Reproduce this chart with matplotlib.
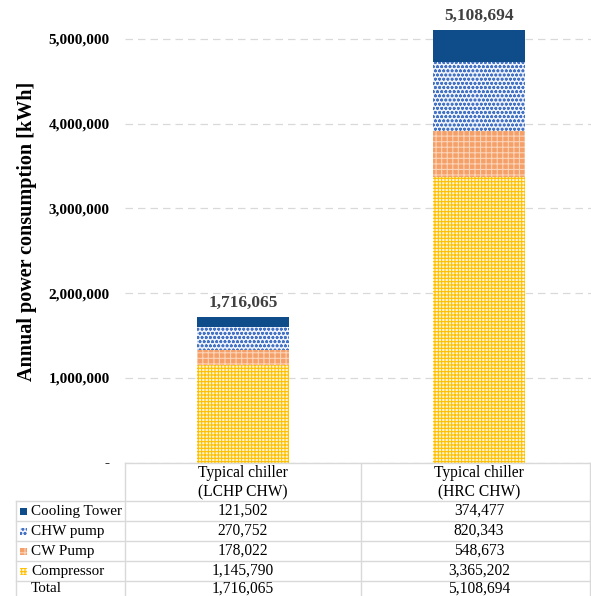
import numpy as np
import matplotlib
matplotlib.use("Agg")
import matplotlib.pyplot as plt
from matplotlib.patches import Rectangle

plt.rcParams['font.family'] = ['Liberation Serif', 'DejaVu Serif']
plt.rcParams['hatch.linewidth'] = 0.8

categories = ["Typical chiller\n(LCHP CHW)", "Typical chiller\n(HRC CHW)"]
components = ["Compressor", "CW Pump", "CHW pump", "Cooling Tower"]
compressor = [1145790, 3365202]
cw_pump = [178022, 548673]
chw_pump = [270752, 820343]
cooling_tower = [121502, 374477]
totals = [1716065, 5108694]
yticks = [0, 1000000, 2000000, 3000000, 4000000, 5000000]

series = [compressor, cw_pump, chw_pump, cooling_tower]
styles = {
    "Compressor": dict(facecolor="#fff6d8", edgecolor="#ffc000", hatch="+++++"),
    "CW Pump": dict(facecolor="#f5a068", edgecolor="#fbd3b8", hatch="+++"),
    "CHW pump": dict(facecolor="#eef2fa", edgecolor="#4472c4", hatch="oooo"),
    "Cooling Tower": dict(facecolor="#0f4c8a", edgecolor="#0f4c8a", hatch=None),
}

W, H = 591, 596
fig = plt.figure(figsize=(W / 100, H / 100), dpi=100)

# chart area in pixel terms
x0, ybase = 125, 462.5
px_per_unit = 84.7e-6
col_w = 236
ax = fig.add_axes([x0 / W, 1 - ybase / H, (W - x0) / W, ybase / H])
ax.set_xlim(-0.5, -0.5 + (W - x0) / col_w)
ax.set_ylim(0, ybase / px_per_unit)

x = np.arange(len(categories))
bottom = np.zeros(len(categories))
for name, vals in zip(components, series):
    st = styles[name]
    ax.bar(x, vals, 0.394, bottom=bottom, facecolor=st["facecolor"],
           edgecolor=st["edgecolor"], hatch=st["hatch"], linewidth=0, zorder=3)
    bottom += np.array(vals)

for xi, t in zip(x, totals):
    ax.text(xi, t + 75000, f"{t:,}", ha="center", va="bottom",
            fontsize=12.5, fontweight="bold", color="#404040")

ax.set_yticks(yticks)
ax.set_yticklabels(["-"] + [f"{v:,}" for v in yticks[1:]],
                   fontsize=11, fontweight="bold")
ax.tick_params(axis="y", length=0, pad=11)
ax.set_xticks([])
for s in ax.spines.values():
    s.set_visible(False)
ax.yaxis.grid(True, linestyle=(0, (6, 4)), color="#d9d9d9", linewidth=0.9, zorder=0)
ax.set_axisbelow(True)
ax.set_ylabel("Annual power consumption [kWh]", fontsize=14.5,
              fontweight="bold", labelpad=8)

# data table under the chart
tb = fig.add_axes([0, 0, 1, 1], zorder=5)
tb.set_xlim(0, W)
tb.set_ylim(H, 0)
tb.axis("off")
tb.patch.set_alpha(0)

lc = "#d9d9d9"
left, c0, c1, c2 = 16, 125, 361, 590
rows_y = [501, 521, 541, 561, 581, 601]
tb.plot([c0, c2], [ybase, ybase], color=lc, lw=1)
for yy in rows_y:
    tb.plot([left, c2], [yy, yy], color=lc, lw=1)
tb.plot([left, left], [rows_y[0], H], color=lc, lw=1)
for xx in (c0, c1, c2):
    tb.plot([xx, xx], [ybase, H], color=lc, lw=1)

centers = [(c0 + c1) / 2, (c1 + c2 + 7) / 2]
for cx, cat in zip(centers, categories):
    tb.text(cx, (ybase + rows_y[0]) / 2 + 1, cat, ha="center", va="center",
            fontsize=11.2, linespacing=1.3)

table_rows = ["Cooling Tower", "CHW pump", "CW Pump", "Compressor"]
table_vals = [cooling_tower, chw_pump, cw_pump, compressor]
for i, (name, vals) in enumerate(zip(table_rows, table_vals)):
    cy = (rows_y[i] + rows_y[i + 1]) / 2
    st = styles[name]
    tb.add_patch(Rectangle((19.5, cy - 3.5), 7, 7, facecolor=st["facecolor"],
                           edgecolor=st["edgecolor"], hatch=st["hatch"], linewidth=0))
    tb.text(31, cy, name, ha="left", va="center", fontsize=10.9)
    for cx, v in zip(centers, vals):
        tb.text(cx, cy, f"{v:,}", ha="center", va="center", fontsize=11.2)

# last row sits at the bottom edge of the figure
tb.text(31, 589, "Total", ha="left", va="center", fontsize=10.9)
for cx, v in zip(centers, totals):
    tb.text(cx, 589, f"{v:,}", ha="center", va="center", fontsize=11.2)

fig.savefig("out.png", dpi=100)
